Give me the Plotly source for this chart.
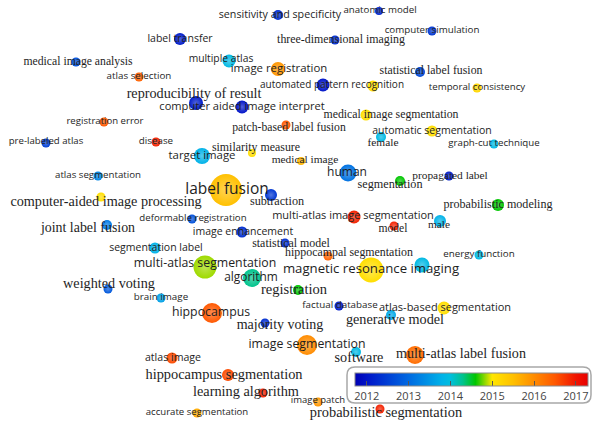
import plotly.graph_objects as go

# Keyword co-occurrence map, overlay coloured by average publication year.
# Node coordinates are the map layout coordinates (same units as the canvas).
keywords = [
    "sensitivity and specificity", "anatomic model", "label transfer",
    "three-dimensional imaging", "computer simulation", "medical image analysis",
    "multiple atlas", "image registration", "atlas selection",
    "automated pattern recognition", None, "statistical label fusion",
    "temporal consistency", "reproducibility of result",
    "computer aided image interpret", "registration error",
    "patch-based label fusion", "medical image segmentation",
    "automatic segmentation", "pre-labeled atlas", "disease", "target image",
    "similarity measure", "medical image", "female", "graph-cut technique",
    "human", "propagated label", "segmentation", "atlas segmentation",
    "label fusion", "subtraction", "computer-aided image processing",
    "deformable registration", "multi-atlas image segmentation", "model",
    "male", "probabilistic modeling", "joint label fusion", "image enhancement",
    "statistical model", "hippocampal segmentation", "energy function",
    "segmentation label", "multi-atlas segmentation",
    "magnetic resonance imaging", None, "algorithm", "registration",
    "weighted voting", "brain image", "hippocampus", "factual database",
    "atlas-based segmentation", "generative model", "majority voting",
    "image segmentation", "software", "multi-atlas label fusion",
    "atlas image", "hippocampus segmentation", "learning algorithm",
    "image patch", "accurate segmentation", "probabilistic segmentation",
]
node_x = [
    278, 379, 180, 335, 432, 76, 229, 278, 139, 323, 373, 420, 477, 196, 242,
    104, 286, 366, 432, 46, 156, 202, 252, 301, 381, 494, 348, 449, 400, 98,
    226, 271, 101, 192, 354, 394, 440, 498, 107, 242, 285, 328, 479, 155, 205,
    371, 422, 252, 298, 108, 161, 212, 339, 444, 391, 265, 307, 356, 415, 172,
    228, 263, 318, 197, 380,
]
node_y = [
    15, 11, 39, 40, 31, 62, 61, 69, 77, 85, 86, 72, 88, 103, 107,
    122, 125, 115, 131, 143, 142, 156, 153, 161, 137, 144, 173, 176, 181, 176,
    190, 195, 197, 219, 217, 226, 221, 205, 225, 232, 243, 256, 255, 248, 267,
    270, 265, 278, 290, 289, 298, 313, 306, 308, 315, 323, 345, 352, 355, 358,
    375, 393, 402, 413, 409,
]
node_weight = [
    10, 8, 12, 9, 9, 9, 13, 14, 9, 13, 11, 10, 9, 14, 13,
    9, 9, 11, 11, 9, 9, 16, 8, 8, 10, 9, 17, 9, 10, 9,
    32, 12, 9, 9, 13, 9, 12, 12, 10, 11, 9, 9, 9, 11, 23,
    25, 15, 18, 10, 9, 9, 20, 9, 13, 10, 9, 20, 10, 18, 11,
    12, 9, 9, 9, 9,
]
avg_year = [
    2012.3, 2012.2, 2012.1, 2012.3, 2012.4, 2012.7, 2013.9, 2015.9, 2016.4,
    2012.0, 2015.1, 2012.6, 2015.2, 2012.1, 2012.0, 2016.5, 2016.5, 2015.1,
    2015.1, 2012.5, 2016.9, 2013.8, 2015.1, 2015.6, 2013.9, 2013.9, 2013.1,
    2012.1, 2014.6, 2013.3, 2015.5, 2012.4, 2015.1, 2012.7, 2016.9, 2016.9,
    2013.8, 2014.6, 2013.2, 2012.3, 2012.3, 2016.4, 2013.9, 2013.8, 2014.85,
    2015.1, 2013.9, 2014.3, 2014.6, 2012.8, 2013.6, 2016.5, 2012.1, 2015.1,
    2013.7, 2012.3, 2016.0, 2013.9, 2016.3, 2016.6, 2016.6, 2016.9, 2015.9,
    2015.7, 2016.9,
]
year_ticks = [2012, 2013, 2014, 2015, 2016, 2017]

# ---- label styling: (font size px, serif?, dx, dy) ----
label_style = {
    "sensitivity and specificity": (10.7, False, 2, 0),
    "anatomic model": (9.7, False, 1, 0),
    "label transfer": (10.5, False, 0, 0),
    "three-dimensional imaging": (11.9, True, 6, 0),
    "computer simulation": (9.75, False, 0, 0),
    "medical image analysis": (11.7, True, 2, 0),
    "multiple atlas": (10.3, False, -8, -2),
    "image registration": (11.4, False, 1, 0),
    "atlas selection": (9.8, False, 0, 0),
    "automated pattern recognition": (10.0, False, 9, 0),
    "statistical label fusion": (11.8, True, 11, -1),
    "temporal consistency": (9.7, False, 0, 0),
    "reproducibility of result": (14.2, True, -2, -9),
    "computer aided image interpret": (11.1, False, 0, 0),
    "registration error": (9.6, False, 1, 0),
    "patch-based label fusion": (11.7, True, 3, 3),
    "medical image segmentation": (11.8, True, 25, 0),
    "automatic segmentation": (10.5, False, 0, 0),
    "pre-labeled atlas": (9.6, False, 0, -1),
    "disease": (9.8, False, 0, 0),
    "target image": (11.4, False, 0, 0),
    "similarity measure": (11.9, True, 4, -5),
    "medical image": (11.4, True, 4, -1),
    "female": (11.4, True, 2, 6),
    "graph-cut technique": (9.7, False, 0, 0),
    "human": (12.0, False, -1, 0),
    "propagated label": (11.4, True, 1, 0),
    "segmentation": (12.2, True, -10, 4),
    "atlas segmentation": (9.7, False, 0, 0),
    "label fusion": (15.5, False, 1, 0),
    "subtraction": (12.2, True, 6, 7),
    "computer-aided image processing": (14.2, True, 5, 5),
    "deformable registration": (9.7, False, 1, 0),
    "multi-atlas image segmentation": (11.0, False, -1, -1),
    "model": (11.6, True, -1, 3),
    "male": (11.3, True, -1, 4),
    "probabilistic modeling": (12.1, True, 0, 0),
    "joint label fusion": (13.9, True, -19, 4),
    "image enhancement": (10.5, False, 1, 0),
    "statistical model": (11.9, True, 6, 1),
    "hippocampal segmentation": (11.9, True, 21, -3),
    "energy function": (9.75, False, 0, 0),
    "segmentation label": (10.5, False, 1, 0),
    "multi-atlas segmentation": (12.3, False, 0, -3),
    "magnetic resonance imaging": (13.2, False, 0, 0),
    "algorithm": (11.9, False, -1, 0),
    "registration": (14.5, True, -4, 0),
    "weighted voting": (14.2, True, 1, -5),
    "brain image": (9.8, False, 0, 0),
    "hippocampus": (12.3, False, -1, 0),
    "factual database": (9.8, False, 1, 0),
    "atlas-based segmentation": (11.0, False, 1, 0),
    "generative model": (14.2, True, 4, 5),
    "majority voting": (14.0, True, 15, 2),
    "image segmentation": (12.3, False, 0, 0),
    "software": (14.2, True, 3, 6),
    "multi-atlas label fusion": (14.1, True, 46, -1),
    "atlas image": (10.6, False, 1, 0),
    "hippocampus segmentation": (14.4, True, -4, 0),
    "learning algorithm": (14.3, True, -17, -1),
    "image patch": (9.5, False, 0, -1),
    "accurate segmentation": (9.6, False, 0, 0),
    "probabilistic segmentation": (14.4, True, 6, 4),
}

SANS = "Open Sans"
SERIF = "Liberation Serif"
TEXT_COLOR = "#1e1e1e"
W, H = 596, 425

# year range covered by the colour bar
CMIN, CMAX = 2011.72, 2017.29
stops = [
    (2011.72, (0, 0, 180)),
    (2012.0, (0, 20, 200)),
    (2013.0, (0, 105, 225)),
    (2013.8, (0, 178, 232)),
    (2014.0, (0, 190, 222)),
    (2014.3, (0, 195, 140)),
    (2014.6, (0, 198, 0)),
    (2015.0, (255, 230, 0)),
    (2015.5, (255, 192, 0)),
    (2016.0, (255, 140, 0)),
    (2016.5, (255, 88, 0)),
    (2017.0, (240, 20, 0)),
    (2017.29, (232, 0, 0)),
]
colorscale = [[(y - CMIN) / (CMAX - CMIN), "rgb(%d,%d,%d)" % c] for y, c in stops]


def year_rgb(year):
    for (y0, c0), (y1, c1) in zip(stops[:-1], stops[1:]):
        if y0 <= year <= y1:
            t = (year - y0) / (y1 - y0)
            return tuple(a + (b - a) * t for a, b in zip(c0, c1))
    return stops[-1][1] if year > stops[-1][0] else stops[0][1]


def lighten(rgb, f=0.32):
    r, g, b = (int(round(v + (255 - v) * f)) for v in rgb)
    return "rgb(%d,%d,%d)" % (r, g, b)


highlight = [lighten(year_rgb(v)) for v in avg_year]

fig = go.Figure()

fig.add_trace(go.Scatter(
    x=node_x, y=node_y, mode="markers", hoverinfo="skip", showlegend=False,
    marker=dict(
        size=node_weight, color=avg_year, colorscale=colorscale,
        cmin=CMIN, cmax=CMAX, opacity=1, line=dict(width=0),
        gradient=dict(type="radial", color=highlight),
        showscale=True,
        colorbar=dict(
            orientation="h", lenmode="pixels", len=233, thickness=13,
            x=471.5 / W, xanchor="center", y=1 - 373 / H, yanchor="top",
            xpad=0, ypad=0, outlinewidth=1, outlinecolor="#8a8a8a",
            tickvals=year_ticks, ticktext=[str(t) for t in year_ticks],
            ticks="inside", ticklen=5, tickwidth=1, tickcolor="#555",
            tickfont=dict(family=SANS, size=11, color="#444"),
        ),
    ),
))

for serif_flag, family in ((False, SANS), (True, SERIF)):
    lx, ly, lt, ls = [], [], [], []
    for kw, x, y in zip(keywords, node_x, node_y):
        if kw is None:
            continue
        size, is_serif, dx, dy = label_style[kw]
        if is_serif != serif_flag:
            continue
        lx.append(x + dx)
        ly.append(y + dy)
        lt.append(kw)
        ls.append(size)
    fig.add_trace(go.Scatter(
        x=lx, y=ly, mode="text", text=lt, textposition="middle center",
        textfont=dict(family=family, size=ls, color=TEXT_COLOR),
        hoverinfo="skip", showlegend=False,
    ))

# rounded frame behind the colour bar
x0, y0, x1, y1, r = 347, 367, 591, 403, 8
frame = (f"M {x0 + r},{y0} L {x1 - r},{y0} Q {x1},{y0} {x1},{y0 + r} "
         f"L {x1},{y1 - r} Q {x1},{y1} {x1 - r},{y1} L {x0 + r},{y1} "
         f"Q {x0},{y1} {x0},{y1 - r} L {x0},{y0 + r} Q {x0},{y0} {x0 + r},{y0} Z")
fig.add_shape(type="path", path=frame, xref="x", yref="y", layer="below",
              line=dict(color="#a8a8a8", width=1.5), fillcolor="white")

fig.update_layout(
    width=W, height=H, margin=dict(l=0, r=0, t=0, b=0),
    paper_bgcolor="white", plot_bgcolor="white",
    xaxis=dict(range=[0, W], visible=False, fixedrange=True),
    yaxis=dict(range=[H, 0], visible=False, fixedrange=True),
)

fig.write_html("out.html")
